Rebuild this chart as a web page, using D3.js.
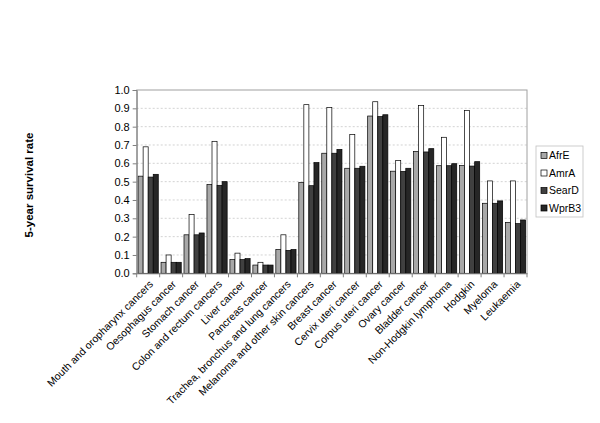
<!DOCTYPE html>
<html><head><meta charset="utf-8">
<script src="https://cdn.jsdelivr.net/npm/d3@7"></script>
<style>body{margin:0;background:#fff}svg{display:block;font-family:"Liberation Sans",Arial,sans-serif}</style>
</head><body><svg id="c" width="600" height="423"></svg>
<script>
const categories = ["Mouth and oropharynx cancers","Oesophagus cancer","Stomach cancer","Colon and rectum cancers","Liver cancer","Pancreas cancer","Trachea, bronchus and lung cancers","Melanoma and other skin cancers","Breast cancer","Cervix uteri cancer","Corpus uteri cancer","Ovary cancer","Bladder cancer","Non-Hodgkin lymphoma","Hodgkin","Myeloma","Leukaemia"];
const seriesNames = ["AfrE","AmrA","SearD","WprB3"];
const AfrE  = [0.53,0.06,0.21,0.485,0.075,0.045,0.13,0.495,0.655,0.573,0.858,0.557,0.665,0.587,0.588,0.382,0.278];
const AmrA  = [0.69,0.10,0.32,0.72,0.11,0.06,0.21,0.92,0.905,0.757,0.936,0.616,0.916,0.742,0.889,0.504,0.504];
const SearD = [0.525,0.06,0.21,0.48,0.075,0.045,0.125,0.478,0.655,0.573,0.855,0.556,0.662,0.587,0.585,0.382,0.271];
const WprB3 = [0.54,0.06,0.22,0.50,0.08,0.045,0.13,0.604,0.676,0.584,0.865,0.573,0.68,0.598,0.609,0.395,0.291];
const yTicks = [0,0.1,0.2,0.3,0.4,0.5,0.6,0.7,0.8,0.9,1.0];
const colors = ["#a8a8a8","#ffffff","#404040","#262626"];

const svg = d3.select("#c");
const L=136.7, R=527, T=90, B=273.3;
const x = d3.scaleBand().domain(categories).range([L,R]).paddingInner(0.12).paddingOuter(0.06);
const xo = d3.scaleBand().domain(seriesNames).range([0,x.bandwidth()]);
const y = d3.scaleLinear().domain([0,1]).range([B,T]);
const data = [AfrE,AmrA,SearD,WprB3];

// gridlines
svg.append("g").selectAll("line").data(yTicks.filter(t=>t>0&&t<1)).join("line")
  .attr("x1",L).attr("x2",R).attr("y1",d=>y(d)).attr("y2",d=>y(d))
  .attr("stroke","#c8c8c8").attr("stroke-width",0.8).attr("stroke-dasharray","2,2");
// frame
svg.append("rect").attr("x",L).attr("y",T).attr("width",R-L).attr("height",B-T)
  .attr("fill","none").attr("stroke","#a0a0a0").attr("stroke-width",1);

// bars
const groups = svg.append("g").selectAll("g").data(categories).join("g")
  .attr("transform",d=>`translate(${x(d)},0)`);
groups.selectAll("rect").data((c,i)=>seriesNames.map((s,j)=>({s,j,v:data[j][i]}))).join("rect")
  .attr("x",d=>xo(d.s)).attr("width",xo.bandwidth())
  .attr("y",d=>y(d.v)).attr("height",d=>B-y(d.v))
  .attr("fill",d=>colors[d.j]).attr("stroke","#000").attr("stroke-width",0.7);

// y axis
const ya = svg.append("g").attr("transform",`translate(${L},0)`)
  .call(d3.axisLeft(y).tickValues(yTicks).tickFormat(d3.format(".1f")).tickSize(4));
ya.select(".domain").attr("stroke","#808080");
ya.selectAll(".tick line").attr("stroke","#808080");
ya.selectAll("text").attr("font-size",11).attr("font-family","Liberation Sans, Arial").attr("fill","#000").attr("x",-7);

// x axis
const xa = svg.append("g").attr("transform",`translate(0,${B})`)
  .call(d3.axisBottom(x).tickSize(0).tickFormat(""));
xa.select(".domain").attr("stroke","#808080");
const step = x.step();
svg.append("g").selectAll("line").data(d3.range(categories.length+1)).join("line")
  .attr("x1",i=>L+i*step).attr("x2",i=>L+i*step).attr("y1",B).attr("y2",B+4)
  .attr("stroke","#808080");
svg.append("g").selectAll("text").data(categories).join("text")
  .attr("transform",d=>`translate(${x(d)+x.bandwidth()/2+3},${B+9}) rotate(-45)`)
  .attr("text-anchor","end").attr("dy","0.35em").attr("font-size",10.5).text(d=>d);

// y title
svg.append("text").attr("transform","translate(33,185) rotate(-90)")
  .attr("text-anchor","middle").attr("font-size",11.5).attr("font-weight","bold").text("5-year survival rate");

// legend
const lg = svg.append("g");
lg.append("rect").attr("x",536).attr("y",146).attr("width",47).attr("height",71)
  .attr("fill","#fff").attr("stroke","#c0c0c0").attr("stroke-width",0.8);
const ly = d3.scalePoint().domain(seriesNames).range([155.5,208]);
lg.selectAll("rect.sw").data(seriesNames).join("rect").attr("class","sw")
  .attr("x",541).attr("y",d=>ly(d)-3).attr("width",6).attr("height",6)
  .attr("fill",(d,i)=>colors[i]).attr("stroke","#000").attr("stroke-width",0.7);
lg.selectAll("text").data(seriesNames).join("text")
  .attr("x",549).attr("y",d=>ly(d)).attr("dy","0.35em").attr("font-size",10.5).text(d=>d);
</script></body></html>
